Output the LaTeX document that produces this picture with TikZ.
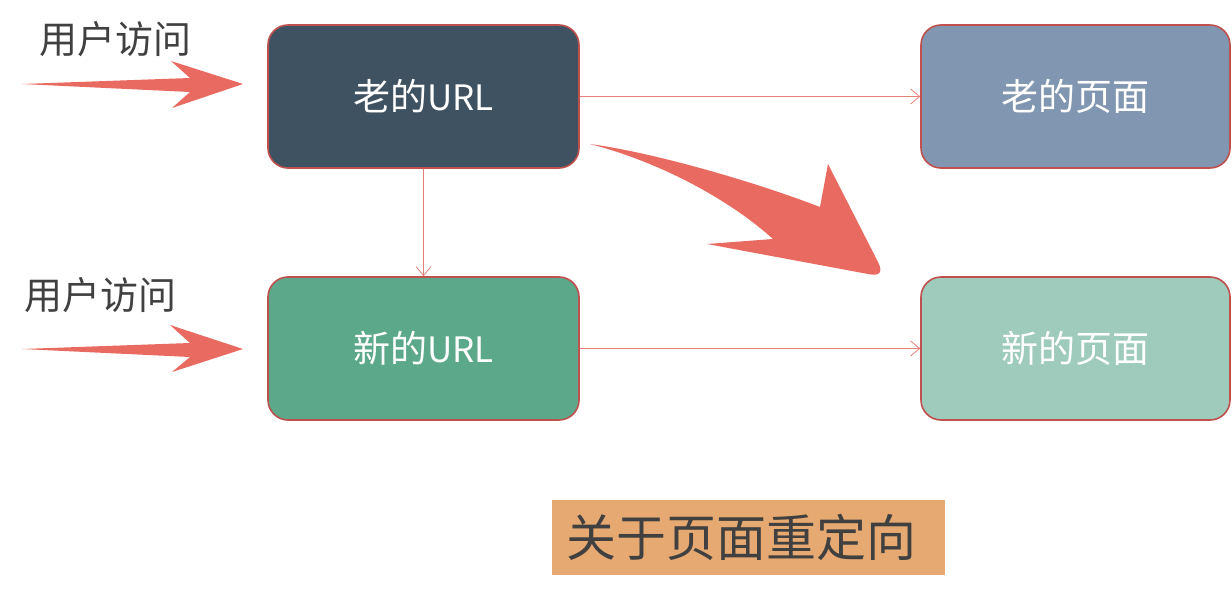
\documentclass[tikz,border=0pt]{standalone}
\usepackage{fontspec}
\newfontfamily\cjk{Noto Sans CJK SC}
\usetikzlibrary{arrows.meta}
\definecolor{bordred}{HTML}{C0504D}
\definecolor{linered}{HTML}{E8807A}
\definecolor{arrowred}{HTML}{E96A60}
\definecolor{oldurl}{HTML}{3F5261}
\definecolor{newurl}{HTML}{5BA88A}
\definecolor{oldpage}{HTML}{8196B0}
\definecolor{newpage}{HTML}{9ECBBB}
\definecolor{labelbg}{HTML}{E6A972}
\definecolor{txtgray}{HTML}{404040}
\tikzset{
  box/.style={draw=bordred, line width=1.6pt, rounded corners=20pt, minimum width=311pt, minimum height=143pt, inner sep=0pt, text=white, font=\cjk\fontsize{37}{42}\selectfont},
  conn/.style={draw=linered, line width=0.8pt, -{Straight Barb[length=9pt,width=15pt]}},
  usertxt/.style={text=txtgray, font=\cjk\fontsize{38}{42}\selectfont, inner sep=0pt},
}
\begin{document}
\begin{tikzpicture}[x=1pt,y=-1pt]
\useasboundingbox (0,0) rectangle (1232,597);
\fill[white] (0,0) rectangle (1232,597);
% nodes
\node[box, fill=oldurl] (ou) at (423.5,96.5) {老的\fontsize{35}{40}\selectfont URL};
\node[box, fill=oldpage, minimum width=309pt] (op) at (1075.5,96.5) {老的页面};
\node[box, fill=newurl] (nu) at (423.5,348.5) {新的\fontsize{35}{40}\selectfont URL};
\node[box, fill=newpage, minimum width=309pt] (np) at (1075.5,348.5) {新的页面};
\node[fill=labelbg, minimum width=393pt, minimum height=75pt, inner sep=0pt, text=txtgray, font=\cjk\fontsize{50}{54}\selectfont] (lbl) at (748.5,537.5) {关于页面重定向\kern14pt\relax};
\node[usertxt] (u1) at (115,39) {用户访问};
\node[usertxt] (u2) at (100,295) {用户访问};
% connectors
\draw[conn] (ou.east) -- (op.west);
\draw[conn] (nu.east) -- (np.west);
\draw[conn] (ou.south) -- (nu.north);
% user arrows
\fill[arrowred] (22,84) -- (190,78) -- (171,61) -- (243,84) -- (172,108) -- (190,92) -- cycle;
\fill[arrowred] (22,349) -- (190,343) -- (170,325) -- (243,349) -- (172,372) -- (190,357) -- cycle;
% curved redirect arrow
\fill[arrowred] (590,144) .. controls (650,152) and (750,180) .. (820,207) -- (828,164) -- (878,262) .. controls (884,274) and (878,276) .. (868,274) -- (707,244) -- (773,239) .. controls (730,200) and (660,162) .. (590,144) -- cycle;
\end{tikzpicture}
\end{document}
